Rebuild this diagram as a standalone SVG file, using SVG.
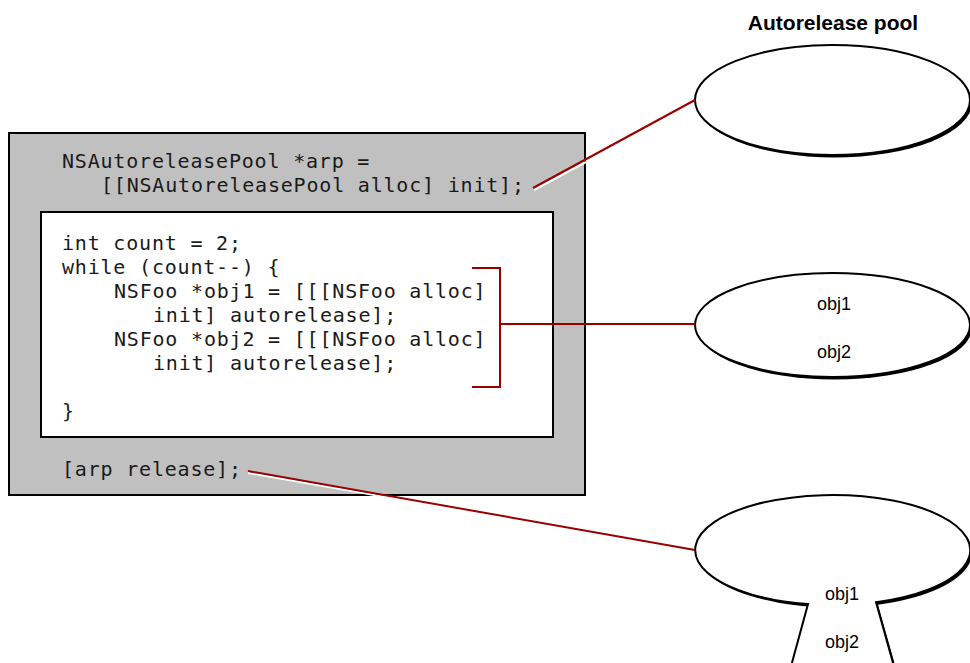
<svg xmlns="http://www.w3.org/2000/svg" width="970" height="663" viewBox="0 0 970 663">
<style>
.code{font-family:"DejaVu Sans Mono","Liberation Mono",monospace;font-size:20px;letter-spacing:0.8px;fill:#1a1a1a;white-space:pre}
.lbl{font-family:"Liberation Sans",Arial,sans-serif;font-size:18px;fill:#000;text-anchor:middle}
.ttl{font-family:"Liberation Sans",Arial,sans-serif;font-size:21px;font-weight:bold;fill:#000;text-anchor:middle}
.pool{fill:#fff;stroke:#000;stroke-width:2}
.shadow{fill:#000}
.red{stroke:#9b0000;stroke-width:2;fill:none}
.hl{stroke:#fff;stroke-width:2;fill:none}
</style>
<rect width="970" height="663" fill="#fff"/>
<g id="code-block">
<rect x="9" y="133" width="576" height="362" fill="#c0c0c0" stroke="#000" stroke-width="2"/>
<text class="code" x="62" y="168">NSAutoreleasePool *arp =</text>
<text class="code" x="101" y="192">[[NSAutoreleasePool alloc] init];</text>
<text class="code" x="62" y="476">[arp release];</text>
</g>
<g id="inner-block">
<rect x="41" y="212" width="512" height="225" fill="#fff" stroke="#000" stroke-width="2"/>
<text class="code" x="62" y="250">int count = 2;</text>
<text class="code" x="62" y="274">while (count--) {</text>
<text class="code" x="114" y="298">NSFoo *obj1 = [[[NSFoo alloc]</text>
<text class="code" x="153" y="322">init] autorelease];</text>
<text class="code" x="114" y="346">NSFoo *obj2 = [[[NSFoo alloc]</text>
<text class="code" x="153" y="370">init] autorelease];</text>
<text class="code" x="62" y="418">}</text>
</g>
<text class="ttl" x="833" y="30">Autorelease pool</text>
<g id="pool-empty">
<ellipse class="shadow" cx="834.5" cy="102.5" rx="137.5" ry="55"/>
<ellipse class="pool" cx="832.5" cy="100" rx="137.5" ry="55"/>
</g>
<g id="pool-filled">
<ellipse class="shadow" cx="834.5" cy="327.5" rx="137.5" ry="52"/>
<ellipse class="pool" cx="832.5" cy="325" rx="137.5" ry="52"/>
<text class="lbl" x="834" y="310">obj1</text>
<text class="lbl" x="834" y="358">obj2</text>
</g>
<g id="pool-released">
<path class="shadow" d="M792,672 L810,606.6 A137.5 55 0 1 1 878,604.7 L897,672 Z"/>
<path class="pool" d="M790,670 L808,604.1 A137.5 55 0 1 1 876,602.2 L895,670 Z"/>
<text class="lbl" x="842" y="600">obj1</text>
<text class="lbl" x="842" y="648">obj2</text>
</g>
<g id="connectors">
<line class="hl" x1="534" y1="190" x2="586" y2="162"/>
<line class="red" x1="533" y1="188" x2="695" y2="100"/>
<path class="red" d="M472,268 H500 V387 H472 M500,324 H695"/>
<line class="hl" x1="248" y1="473" x2="420" y2="503"/>
<line class="red" x1="248" y1="471" x2="695" y2="550"/>
</g>
</svg>
